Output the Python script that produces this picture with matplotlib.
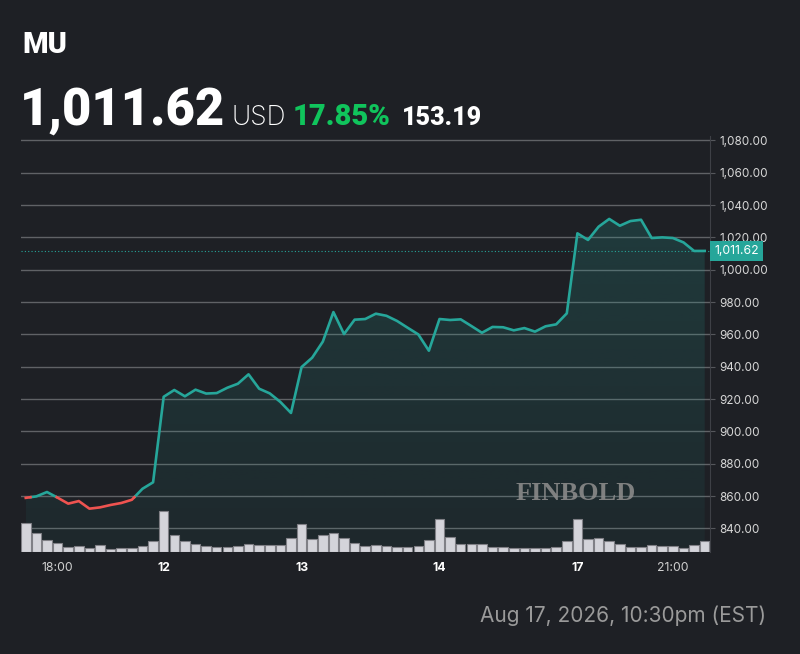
import numpy as np
import matplotlib.pyplot as plt
from matplotlib.patches import Polygon
from matplotlib.colors import to_rgb

ticker = 'MU'
last_price = 1011.62
change_pct = 17.85
change_abs = 153.19
timestamp = 'Aug 17, 2026, 10:30pm (EST)'
ref_price = 859.3  # line is drawn red below this level

price = [858.9, 859.8, 862.5, 859.0, 855.3, 856.9, 852.2, 853.0, 854.5, 855.7, 857.7, 864.5, 868.5,
         921.4, 925.6, 921.7, 925.8, 923.4, 923.7, 927.0, 929.5, 935.3, 926.4, 923.5, 918.2, 911.4,
         939.8, 945.6, 955.5, 973.8, 960.2, 969.1, 969.5, 972.8, 971.5, 968.3, 964.1, 960.0, 949.9,
         969.5, 968.9, 969.3, 965.2, 961.0, 964.6, 964.4, 962.5, 963.9, 961.7, 965.0, 966.2, 973.0,
         1022.5, 1018.4, 1026.6, 1031.4, 1027.2, 1030.1, 1030.9, 1019.6, 1020.0, 1019.6, 1016.9, 1011.6, 1011.62]
volume = [2.9, 1.9, 1.17, 0.87, 0.5, 0.57, 0.4, 0.7, 0.3, 0.4, 0.4, 0.6, 1.07,
          4.1, 1.67, 1.13, 0.8, 0.63, 0.53, 0.53, 0.63, 0.8, 0.73, 0.73, 0.7, 1.37,
          2.77, 1.3, 1.67, 1.9, 1.37, 0.93, 0.63, 0.7, 0.63, 0.47, 0.5, 0.57, 1.2,
          3.33, 1.5, 0.77, 0.83, 0.83, 0.53, 0.47, 0.37, 0.37, 0.37, 0.37, 0.47, 1.13,
          3.33, 1.27, 1.37, 1.13, 0.8, 0.53, 0.47, 0.7, 0.63, 0.63, 0.4, 0.7, 1.13]
tick_pos = [3, 13, 26, 39, 52, 61]
tick_text = ['18:00', '12', '13', '14', '17', '21:00']
tick_bold = [False, True, True, True, True, False]
y_ticks = np.arange(840, 1081, 20)

BG = '#1e2025'
TEAL = '#26a69a'
RED = '#ef5350'
GRID = '#606266'

plt.rcParams['font.family'] = ['Inter', 'DejaVu Sans']
HEAD = ['Roboto', 'Inter', 'DejaVu Sans']

W, H = 800, 654
fig = plt.figure(figsize=(W / 100, H / 100), dpi=100, facecolor=BG)
ax = fig.add_axes([21 / W, 1 - 552 / H, 689 / W, 416 / H])
ax.set_facecolor(BG)

# volume on a twin axis, made first so it doesn't move the price ticks afterwards
axv = ax.twinx()

x = np.arange(len(price))
p = np.array(price)
ymin, ymax = 825.4, 1082.7

# insert crossing points so the colour switches exactly at the reference level
xs, ys = [x[0]], [p[0]]
for i in range(1, len(p)):
    a, b = p[i - 1] - ref_price, p[i] - ref_price
    if a * b < 0:
        t = a / (a - b)
        xs.append(x[i - 1] + t)
        ys.append(ref_price)
    xs.append(x[i])
    ys.append(p[i])
xs, ys = np.array(xs), np.array(ys)

# gradient fill under the line
verts = [(xs[0], ymin)] + list(zip(xs, ys)) + [(xs[-1], ymin)]
poly = Polygon(verts, closed=True, fc='none', ec='none')
ax.add_patch(poly)
r, g, b = to_rgb(TEAL)
alpha = np.linspace(0.2, 0.06, 256)
rgba = np.zeros((256, 1, 4))
rgba[:, 0, 0], rgba[:, 0, 1], rgba[:, 0, 2], rgba[:, 0, 3] = r, g, b, alpha
img = ax.imshow(rgba, extent=[xs[0], xs[-1], ymin, p.max()], aspect='auto', origin='upper', zorder=1)
img.set_clip_path(poly)

for yt in y_ticks:
    ax.axhline(yt, color=GRID, lw=1, zorder=0.5)

ax.plot(xs, np.ma.masked_where(ys < ref_price, ys), color=TEAL, lw=1.9, zorder=4, solid_joinstyle='round')
ax.plot(xs, np.ma.masked_where(ys > ref_price, ys), color=RED, lw=1.9, zorder=4, solid_joinstyle='round')
ax.axhline(last_price, color=TEAL, lw=0.8, ls=(0, (1, 2)), zorder=3)

ax.set_xlim(-0.45, 64.5)
ax.set_ylim(ymin, ymax)

ax.yaxis.tick_right()
ax.set_yticks(y_ticks)
ax.set_yticklabels([f'{v:,.2f}' for v in y_ticks])
ax.tick_params(axis='y', colors='#55575c', labelcolor='#d8d8d8', labelsize=8.4, length=3.5, pad=3)
ax.set_xticks(tick_pos)
ax.set_xticklabels(tick_text)
ax.tick_params(axis='x', length=0, labelsize=8.8, labelcolor='#d0d0d0', pad=7)
for lbl, bold in zip(ax.get_xticklabels(), tick_bold):
    if bold:
        lbl.set_fontweight('bold')
        lbl.set_color('white')
for side in ['left', 'top', 'bottom']:
    ax.spines[side].set_visible(False)
ax.spines['right'].set_color('#3e4046')

ax.annotate(f'{last_price:,.2f}', xy=(1, last_price), xycoords=('axes fraction', 'data'),
            xytext=(3, 0), textcoords='offset points', ha='left', va='center',
            fontsize=8.8, color='white', zorder=6, annotation_clip=False,
            bbox=dict(boxstyle='square,pad=0.35', fc=TEAL, ec='none'))

axv.bar(x, volume, width=0.9, color='#d4d4da', edgecolor='#808086', linewidth=0.8, zorder=2)
axv.set_ylim(0, max(volume) * 416 / 41)
axv.axis('off')
ax.set_zorder(axv.get_zorder() - 1)
ax.patch.set_visible(True)
axv.patch.set_visible(False)

ax.text(0.805, 0.14, 'FINBOLD', transform=ax.transAxes, ha='center', va='center',
        fontsize=19, fontweight='bold', color='#8a8a8a', alpha=0.9,
        family=['Liberation Serif', 'DejaVu Serif'], zorder=5)

# header
fig.text(22 / W, 1 - 53 / H, ticker, fontsize=21, fontweight='black', color='white', va='baseline', family=HEAD)
fig.text(20 / W, 1 - 125 / H, f'{last_price:,.2f}', fontsize=36.5, fontweight='black', color='white', va='baseline', family=HEAD)
fig.text(231 / W, 1 - 125 / H, 'USD', fontsize=19, fontweight='light', color='white', va='baseline')
fig.text(293 / W, 1 - 125 / H, f'{change_pct:.2f}%', fontsize=21, fontweight='black', color='#10c45c', va='baseline', family=HEAD)
fig.text(402 / W, 1 - 125 / H, f'{change_abs:.2f}', fontsize=18, fontweight='black', color='white', va='baseline', family=HEAD)
fig.text(766 / W, 1 - 622 / H, timestamp, fontsize=15, color='#9a9a9a', ha='right', va='baseline')

fig.savefig('out.png', dpi=100, facecolor=BG)
